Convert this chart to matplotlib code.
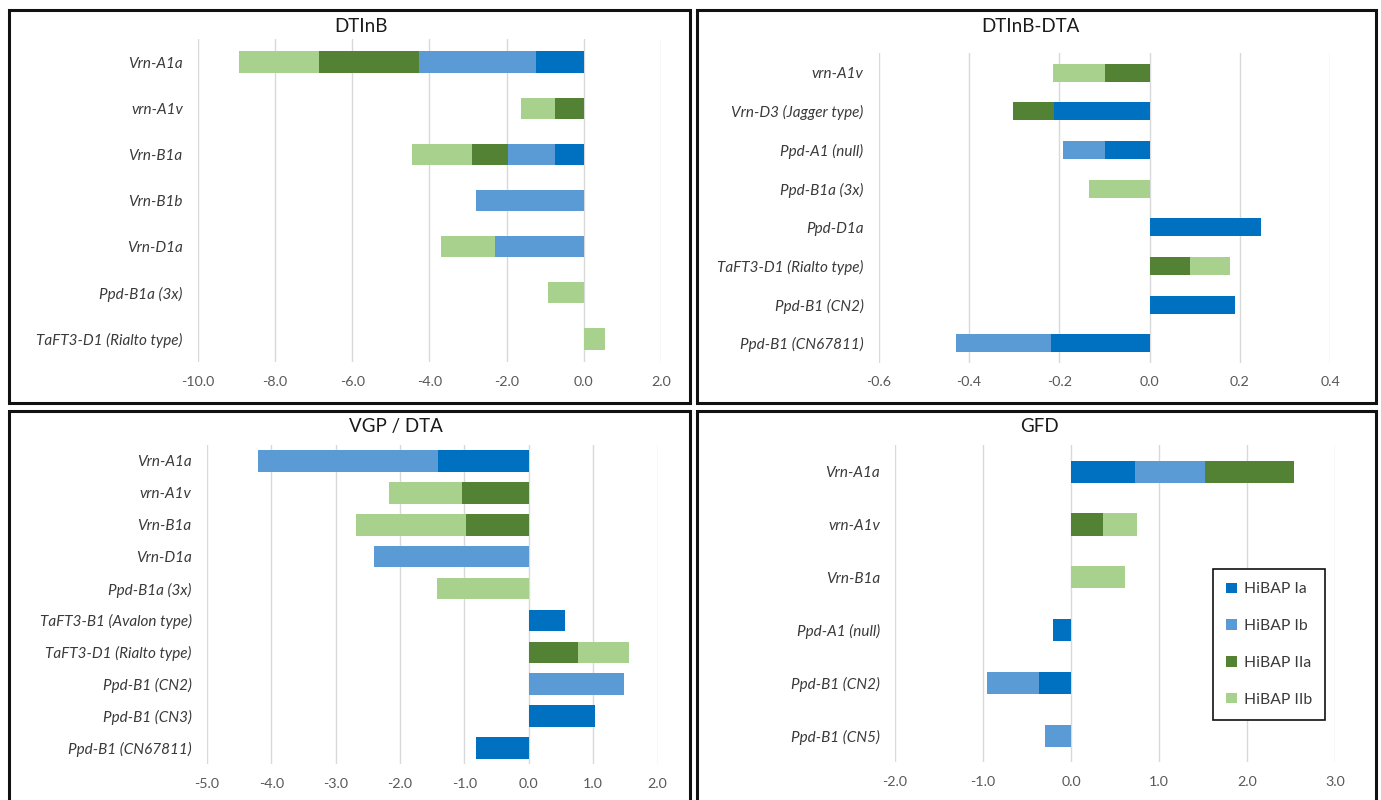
import matplotlib
matplotlib.use("Agg")
import matplotlib.pyplot as plt
from matplotlib.patches import Rectangle, Patch
from matplotlib.ticker import MultipleLocator, FuncFormatter

plt.rcParams["font.family"] = ["Lato", "DejaVu Sans"]

W, H = 1381, 800

SERIES = ["HiBAP Ia", "HiBAP Ib", "HiBAP IIa", "HiBAP IIb"]
COLORS = ["#0070C0", "#5B9BD5", "#548235", "#A9D18E"]

# ---- DTInB ----
dtinb_cats = ["Vrn-A1a", "vrn-A1v", "Vrn-B1a", "Vrn-B1b", "Vrn-D1a",
              "Ppd-B1a (3x)", "TaFT3-D1 (Rialto type)"]
dtinb_ia = [-1.25, 0.0, -0.75, 0.0, 0.0, 0.0, 0.0]
dtinb_ib = [-3.03, 0.0, -1.21, -2.79, -2.30, 0.0, 0.0]
dtinb_iia = [-2.59, -0.75, -0.93, 0.0, 0.0, 0.0, 0.0]
dtinb_iib = [-2.08, -0.88, -1.57, 0.0, -1.39, -0.92, 0.55]

# ---- DTInB-DTA ----
dta_cats = ["vrn-A1v", "Vrn-D3 (Jagger type)", "Ppd-A1 (null)", "Ppd-B1a (3x)",
            "Ppd-D1a", "TaFT3-D1 (Rialto type)", "Ppd-B1 (CN2)", "Ppd-B1 (CN67811)"]
dta_ia = [0.0, -0.211, -0.099, 0.0, 0.247, 0.0, 0.19, -0.218]
dta_ib = [0.0, 0.0, -0.094, 0.0, 0.0, 0.0, 0.0, -0.210]
dta_iia = [-0.099, -0.091, 0.0, 0.0, 0.0, 0.090, 0.0, 0.0]
dta_iib = [-0.115, 0.0, 0.0, -0.134, 0.0, 0.088, 0.0, 0.0]

# ---- VGP / DTA ----
vgp_cats = ["Vrn-A1a", "vrn-A1v", "Vrn-B1a", "Vrn-D1a", "Ppd-B1a (3x)",
            "TaFT3-B1 (Avalon type)", "TaFT3-D1 (Rialto type)", "Ppd-B1 (CN2)",
            "Ppd-B1 (CN3)", "Ppd-B1 (CN67811)"]
vgp_ia = [-1.41, 0.0, 0.0, 0.0, 0.0, 0.56, 0.0, 0.0, 1.03, -0.82]
vgp_ib = [-2.80, 0.0, 0.0, -2.40, 0.0, 0.0, 0.0, 1.48, 0.0, 0.0]
vgp_iia = [0.0, -1.04, -0.97, 0.0, 0.0, 0.0, 0.77, 0.0, 0.0, 0.0]
vgp_iib = [0.0, -1.13, -1.72, 0.0, -1.43, 0.0, 0.78, 0.0, 0.0, 0.0]

# ---- GFD ----
gfd_cats = ["Vrn-A1a", "vrn-A1v", "Vrn-B1a", "Ppd-A1 (null)", "Ppd-B1 (CN2)",
            "Ppd-B1 (CN5)"]
gfd_ia = [0.73, 0.0, 0.0, -0.21, -0.36, 0.0]
gfd_ib = [0.79, 0.0, 0.0, 0.0, -0.60, -0.30]
gfd_iia = [1.01, 0.36, 0.0, 0.0, 0.0, 0.0]
gfd_iib = [0.0, 0.39, 0.61, 0.0, 0.0, 0.0]


def fmt_tick(x, _pos):
    v = round(x, 6)
    if v == 0:
        v = 0.0
    return f"{v:.1f}"


def px_axes(fig, x0, y0, x1, y1):
    return fig.add_axes([x0 / W, 1 - y1 / H, (x1 - x0) / W, (y1 - y0) / H])


def stacked_panel(ax, cats, series, xlim, step, bar_h):
    n = len(cats)
    ypos = list(range(n))
    pos_left = [0.0] * n
    neg_left = [0.0] * n
    for vals, col in zip(series, COLORS):
        lefts = []
        for i, v in enumerate(vals):
            if v >= 0:
                lefts.append(pos_left[i])
                pos_left[i] += v
            else:
                lefts.append(neg_left[i])
                neg_left[i] += v
        ax.barh(ypos, vals, left=lefts, height=bar_h, color=col,
                edgecolor="none", zorder=3)
    ax.set_xlim(*xlim)
    ax.set_ylim(n - 0.5, -0.5)
    ax.set_yticks(ypos)
    ax.set_yticklabels(cats, fontstyle="italic", fontsize=11, color="#3a3a3a")
    ax.xaxis.set_major_locator(MultipleLocator(step))
    ax.xaxis.set_major_formatter(FuncFormatter(fmt_tick))
    ax.grid(axis="x", color="#D9D9D9", lw=1.0, zorder=0)
    ax.tick_params(axis="x", length=0, pad=10, labelsize=10.3,
                   labelcolor="#595959")
    ax.tick_params(axis="y", length=0, pad=11)
    for s in ax.spines.values():
        s.set_visible(False)


fig = plt.figure(figsize=(W / 100, H / 100), dpi=100)

# panel frames
frames = [(9, 9.5, 689.5, 402.5), (696.5, 9.5, 1376, 402.5),
          (9, 410.5, 689.5, 830), (696.5, 410.5, 1375.5, 830)]
for x0, y0, x1, y1 in frames:
    fig.add_artist(Rectangle((x0 / W, 1 - y1 / H), (x1 - x0) / W, (y1 - y0) / H,
                             transform=fig.transFigure, fill=False,
                             ec="#111111", lw=2.2, zorder=10))

ax1 = px_axes(fig, 198, 39, 661, 362)
stacked_panel(ax1, dtinb_cats, [dtinb_ia, dtinb_ib, dtinb_iia, dtinb_iib],
              (-10, 2), 2, 0.46)

ax2 = px_axes(fig, 878.8, 53.4, 1330.2, 362.6)
stacked_panel(ax2, dta_cats, [dta_ia, dta_ib, dta_iia, dta_iib],
              (-0.6, 0.4), 0.2, 0.46)

ax3 = px_axes(fig, 206.9, 445, 657.6, 764)
stacked_panel(ax3, vgp_cats, [vgp_ia, vgp_ib, vgp_iia, vgp_iib],
              (-5, 2), 1, 0.68)

ax4 = px_axes(fig, 895.1, 445.3, 1335, 762)
stacked_panel(ax4, gfd_cats, [gfd_ia, gfd_ib, gfd_iia, gfd_iib],
              (-2, 3), 1, 0.42)

titles = [("DTInB", 361, 27), ("DTInB-DTA", 1030, 27),
          ("VGP / DTA", 396, 427), ("GFD", 1039, 427)]
for txt, x, y in titles:
    fig.text(x / W, 1 - y / H, txt, ha="center", va="center",
             fontsize=13.5, color="#1a1a1a")

handles = [Patch(facecolor=c, edgecolor="none") for c in COLORS]
leg = fig.legend(handles, SERIES, loc="upper left",
                 bbox_to_anchor=(1213 / W, 1 - 569 / H), borderaxespad=0,
                 frameon=True, fancybox=False, framealpha=1, edgecolor="#111111",
                 fontsize=11.3, labelspacing=1.45, handlelength=0.65,
                 handleheight=0.65, handletextpad=0.45, borderpad=0.85)
leg.get_frame().set_linewidth(1.2)
for t in leg.get_texts():
    t.set_color("#3a3a3a")

fig.savefig("out.png", dpi=100)
